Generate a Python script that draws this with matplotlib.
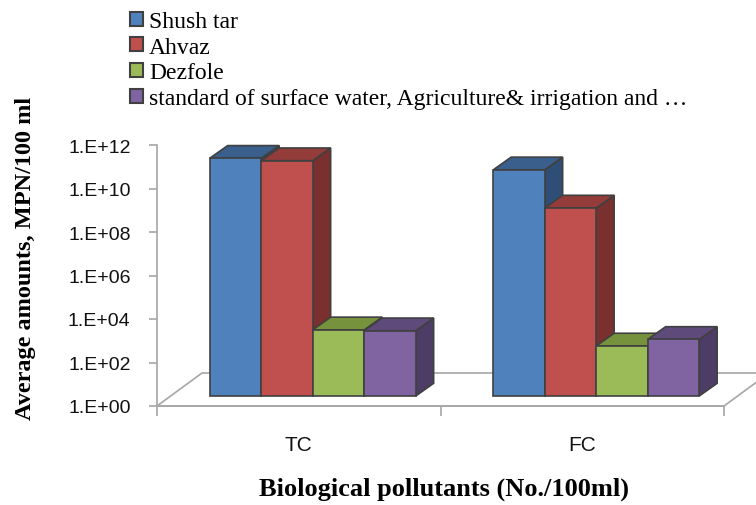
import math
import matplotlib
matplotlib.use("Agg")
import matplotlib.pyplot as plt
from matplotlib.patches import Polygon, Patch
from matplotlib.ticker import FixedLocator, FuncFormatter

# data (MPN/100 ml, log scale)
categories = ["TC", "FC"]
series = ["Shush tar", "Ahvaz", "Dezfole",
          "standard of surface water, Agriculture& irrigation and \u2026"]
shush_tar = [8.5e10, 2.5e10]
ahvaz = [6.6e10, 4.4e8]
dezfole = [1.1e3, 2.0e2]
standard = [1.0e3, 4.0e2]
values = [shush_tar, ahvaz, dezfole, standard]

# Excel-like 3D colours: front, top, side
front = ["#4F81BD", "#C0504D", "#9BBB59", "#8064A2"]
top = ["#3A5F8C", "#943C3A", "#76923C", "#5F4A7C"]
side = ["#2F4E76", "#7A302F", "#5E7530", "#4D3C66"]
edge = "#404040"
grid_gray = "#A6A6A6"

W, H = 756, 506
PX_X = 283.5   # pixels per category
PX_DEC = 21.75  # pixels per decade

fig = plt.figure(figsize=(W / 100, H / 100), dpi=100)

ax = fig.add_axes([157 / W, (H - 407) / H, 567 / W, 261 / H])
ax.set_yscale("log")
ax.set_ylim(1, 1e12)
ax.set_xlim(0, 2)
ax.patch.set_visible(False)
for s in ["top", "right"]:
    ax.spines[s].set_visible(False)
for s in ["left", "bottom"]:
    ax.spines[s].set_color(grid_gray)
    ax.spines[s].set_linewidth(1.2)
    ax.spines[s].set_zorder(0.5)

ax.yaxis.set_major_locator(FixedLocator([10.0 ** k for k in range(0, 13, 2)]))
ax.yaxis.set_minor_locator(FixedLocator([]))
ax.yaxis.set_major_formatter(FuncFormatter(lambda v, p: "1.E+%02d" % round(math.log10(v))))
ax.tick_params(axis="y", length=6, width=1.2, color=grid_gray, labelsize=14,
               labelcolor="#111111", pad=13)
for t in ax.get_yticklabels():
    t.set_fontfamily("Liberation Sans")

ax.set_xticks([0, 1, 2])
ax.set_xticklabels([])
ax.set_xticks([0.5, 1.5], minor=True)
ax.set_xticklabels(categories, minor=True, fontsize=15, family="Liberation Sans",
                   color="#111111")
ax.tick_params(axis="x", which="major", length=7, width=1.2, color=grid_gray)
ax.tick_params(axis="x", which="minor", length=0, pad=21)

# floor (oblique depth: 45 px right, 33 px up)
fdx = 45 / PX_X
fdy = 10 ** (33 / PX_DEC)
floor = Polygon([(0, 1), (2, 1), (2 + fdx, fdy), (fdx, fdy)], closed=True,
                facecolor="white", edgecolor=grid_gray, linewidth=1.2,
                clip_on=False, zorder=0.4)
ax.add_patch(floor)

# bars sit part way back on the floor
bx = 14 / PX_X
by = 10 ** (10 / PX_DEC)
ddx = 17.9 / PX_X
ddy = 10 ** (12.7 / PX_DEC)
w = 51.5 / PX_X

z = 2
for c in range(len(categories)):
    for i, vals in enumerate(values):
        v = vals[c]
        x0 = c + 0.5 + (i - 2) * w + bx
        x1 = x0 + w
        ax.add_patch(Polygon([(x1, by), (x1, v * by), (x1 + ddx, v * by * ddy), (x1 + ddx, by * ddy)],
                             closed=True, facecolor=side[i], edgecolor=edge,
                             linewidth=1.2, clip_on=False, zorder=z))
        ax.add_patch(Polygon([(x0, v * by), (x1, v * by), (x1 + ddx, v * by * ddy), (x0 + ddx, v * by * ddy)],
                             closed=True, facecolor=top[i], edgecolor=edge,
                             linewidth=1.2, clip_on=False, zorder=z))
        ax.bar(x0, v * by - by, width=w, bottom=by, align="edge", color=front[i],
               edgecolor=edge, linewidth=1.2, clip_on=False, zorder=z)
        z += 0.01

# legend
handles = [Patch(facecolor=front[i], edgecolor=edge, linewidth=1.5) for i in range(4)]
fig.legend(handles, series, loc="upper left", bbox_to_anchor=(130 / W, 1 - 12 / H),
           frameon=False, prop={"family": "Liberation Serif", "size": 17},
           handlelength=0.55, handleheight=0.55, handletextpad=0.25,
           labelspacing=0.2, borderaxespad=0, borderpad=0)

fig.text(26 / W, 1 - 258 / H, "Average amounts, MPN/100 ml", rotation=90,
         ha="center", va="center", fontsize=17.5, fontweight="bold",
         family="Liberation Serif")
fig.text(444 / W, 1 - 489 / H, "Biological pollutants (No./100ml)",
         ha="center", va="center", fontsize=19, fontweight="bold",
         family="Liberation Serif")

fig.savefig("out.png", dpi=100)
